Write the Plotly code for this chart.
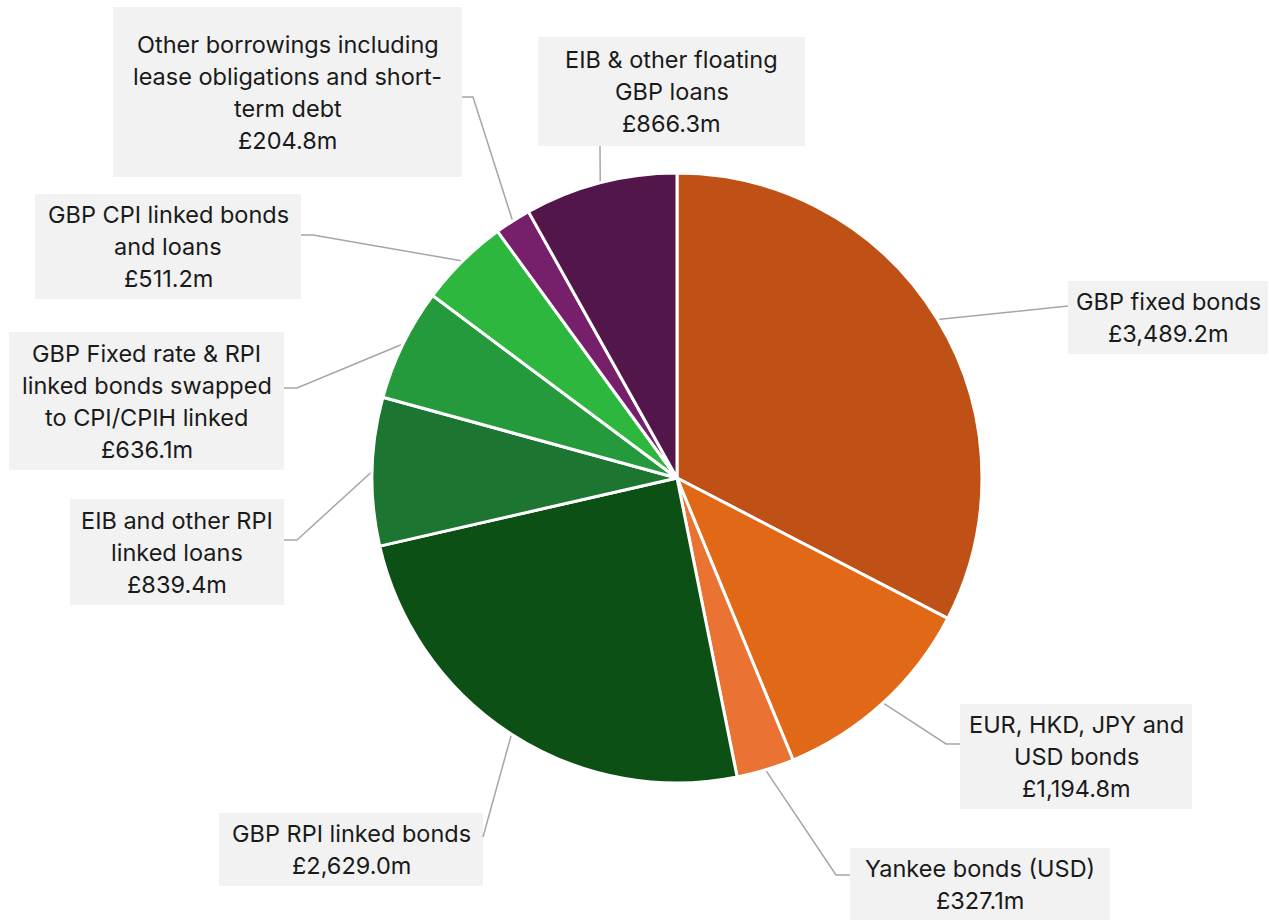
import numpy as np
import plotly.graph_objects as go

# ---- data -------------------------------------------------------------
categories = [
    "GBP fixed bonds",
    "EUR, HKD, JPY and USD bonds",
    "Yankee bonds (USD)",
    "GBP RPI linked bonds",
    "EIB and other RPI linked loans",
    "GBP Fixed rate & RPI linked bonds swapped to CPI/CPIH linked",
    "GBP CPI linked bonds and loans",
    "Other borrowings including lease obligations and short-term debt",
    "EIB & other floating GBP loans",
]
values_gbp_m = [3489.2, 1194.8, 327.1, 2629.0, 839.4, 636.1, 511.2, 204.8, 866.3]

# label text as wrapped in the callout boxes (value line appended below)
label_lines = [
    ["GBP fixed bonds"],
    ["EUR, HKD, JPY and", "USD bonds"],
    ["Yankee bonds (USD)"],
    ["GBP RPI linked bonds"],
    ["EIB and other RPI", "linked loans"],
    ["GBP Fixed rate & RPI", "linked bonds swapped", "to CPI/CPIH linked"],
    ["GBP CPI linked bonds", "and loans"],
    ["Other borrowings including", "lease obligations and short-", "term debt"],
    ["EIB & other floating", "GBP loans"],
]

slice_colors = ["#C05116", "#E06816", "#EA7334", "#0D5016", "#1C7530",
                "#249A3C", "#2EB73E", "#76206C", "#52164A"]

# ---- layout geometry (pixels) -----------------------------------------
W, H = 1269, 920
CX, CY, R = 677, 478, 305
FONT = "Inter"
FSIZE = 23.5
LINE_H = 32
BOX_FILL = "#F2F2F2"
LEADER = "#A6A6A6"

# callout boxes: (x0, y0, x1, y1)
boxes = [
    (1068, 281, 1268, 354),
    (960, 704, 1192, 809),
    (850, 848, 1110, 921),
    (219, 813, 483, 886),
    (70, 499, 284, 605),
    (9, 332, 284, 470),
    (35, 194, 301, 299),
    (113, 7, 462, 177),
    (538, 37, 805, 146),
]
# leader path from slice edge: optional elbow point, then box attachment point
leader_paths = [
    [(1068, 306)],
    [(946, 744), (960, 744)],
    [(836, 875), (850, 875)],
    [(483, 837)],
    [(297, 540), (284, 540)],
    [(297, 388), (284, 388)],
    [(313, 235), (301, 235)],
    [(473, 97), (462, 97)],
    [(600, 146)],
]


def fmt_money(v):
    return f"£{v:,.1f}m"


fig = go.Figure()

fig.add_trace(go.Pie(
    labels=categories,
    values=values_gbp_m,
    sort=False,
    direction="clockwise",
    rotation=0,
    marker=dict(colors=slice_colors, line=dict(color="white", width=3)),
    textinfo="none",
    hoverinfo="label+value",
    showlegend=False,
    domain=dict(
        x=[(CX - R) / W, (CX + R) / W],
        y=[(H - CY - R) / H, (H - CY + R) / H],
    ),
))

# leader lines start at the mid-angle of each slice on the pie rim
vals = np.array(values_gbp_m)
mid_frac = (np.cumsum(vals) - vals / 2) / vals.sum()
theta = 2 * np.pi * mid_frac
edge_x = CX + R * np.sin(theta)
edge_y = CY - R * np.cos(theta)

for i, path in enumerate(leader_paths):
    xs = [edge_x[i]] + [p[0] for p in path]
    ys = [edge_y[i]] + [p[1] for p in path]
    fig.add_trace(go.Scatter(
        x=xs, y=ys, mode="lines",
        line=dict(color=LEADER, width=1.5),
        hoverinfo="skip", showlegend=False,
    ))

shapes = []
annotations = []
for i, (x0, y0, x1, y1) in enumerate(boxes):
    shapes.append(dict(type="rect", xref="x", yref="y",
                       x0=x0, y0=y0, x1=x1, y1=y1,
                       fillcolor=BOX_FILL, line=dict(width=0), layer="below"))
    lines = label_lines[i] + [fmt_money(values_gbp_m[i])]
    n = len(lines)
    yc = (y0 + y1) / 2
    for k, t in enumerate(lines):
        annotations.append(dict(
            x=(x0 + x1) / 2, y=yc + (k - (n - 1) / 2) * LINE_H,
            xref="x", yref="y", text=t, showarrow=False,
            xanchor="center", yanchor="middle",
            font=dict(family=FONT, size=FSIZE, color="#1A1A1A"),
        ))

fig.update_layout(
    width=W, height=H,
    margin=dict(l=0, r=0, t=0, b=0),
    paper_bgcolor="white", plot_bgcolor="rgba(0,0,0,0)",
    xaxis=dict(range=[0, W], visible=False, fixedrange=True, domain=[0, 1]),
    yaxis=dict(range=[H, 0], visible=False, fixedrange=True, domain=[0, 1]),
    shapes=shapes,
    annotations=annotations,
    showlegend=False,
)

fig.write_html("out.html")
